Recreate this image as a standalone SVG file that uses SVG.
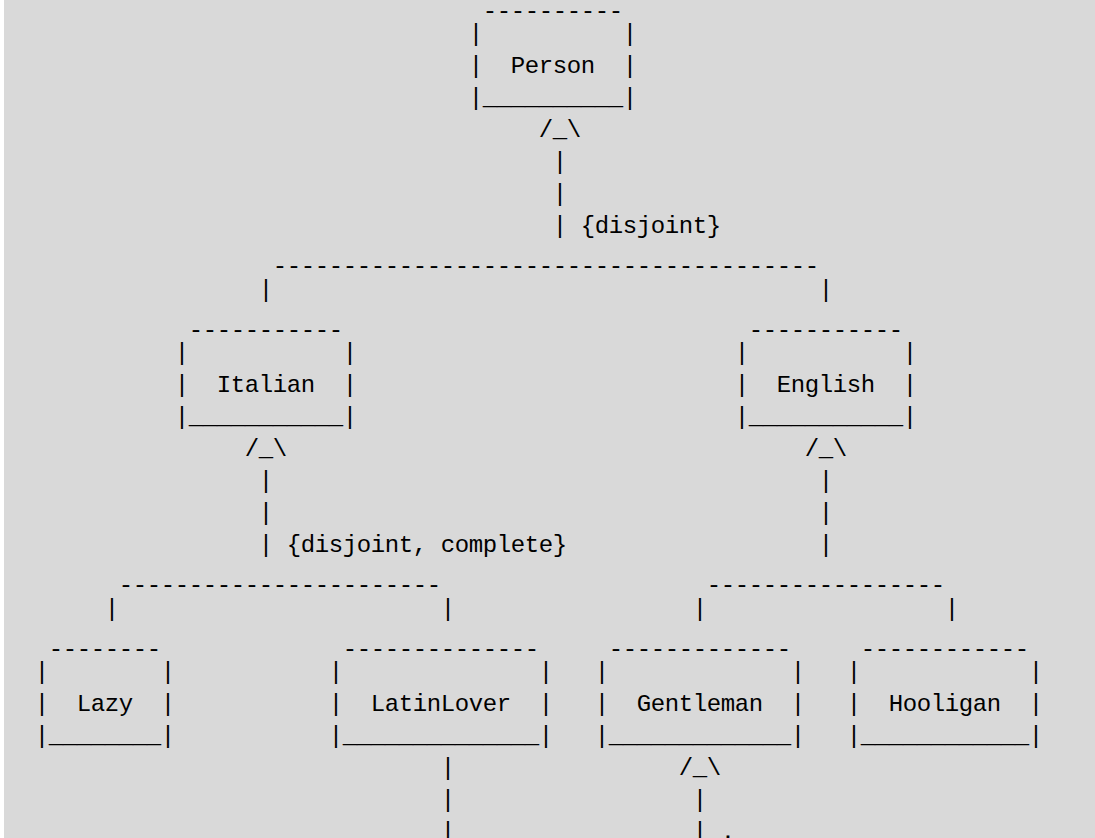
<svg xmlns="http://www.w3.org/2000/svg" width="1095" height="838" viewBox="0 0 1095 838" xml:space="preserve">
<style>
text { font-family: "Liberation Mono", "DejaVu Sans Mono", monospace; font-size: 24px; letter-spacing: -0.4px; fill: #000; white-space: pre; }
</style>
<rect x="0" y="0" width="1095" height="838" fill="#ffffff"/>
<rect x="4" y="0" width="1091" height="838" fill="#d9d9d9"/>

<g id="person">
<text x="482.7" y="17.7">----------</text>
<text x="468.7" y="41.4">|</text><text x="622.7" y="41.4">|</text>
<text x="468.7" y="73.3">|  Person  |</text>
<text x="468.7" y="105.2">|__________|</text>
</g>

<g id="italian">
<text x="188.7" y="336.7">-----------</text>
<text x="174.7" y="360.4">|</text><text x="342.7" y="360.4">|</text>
<text x="174.7" y="392.3">|  Italian  |</text>
<text x="174.7" y="424.2">|___________|</text>
</g>

<g id="english">
<text x="748.7" y="336.7">-----------</text>
<text x="734.7" y="360.4">|</text><text x="902.7" y="360.4">|</text>
<text x="734.7" y="392.3">|  English  |</text>
<text x="734.7" y="424.2">|___________|</text>
</g>

<g id="lazy">
<text x="48.7" y="655.7">--------</text>
<text x="34.7" y="679.4">|</text><text x="160.7" y="679.4">|</text>
<text x="34.7" y="711.3">|  Lazy  |</text>
<text x="34.7" y="743.2">|________|</text>
</g>

<g id="latinlover">
<text x="342.7" y="655.7">--------------</text>
<text x="328.7" y="679.4">|</text><text x="538.7" y="679.4">|</text>
<text x="328.7" y="711.3">|  LatinLover  |</text>
<text x="328.7" y="743.2">|______________|</text>
</g>

<g id="gentleman">
<text x="608.7" y="655.7">-------------</text>
<text x="594.7" y="679.4">|</text><text x="790.7" y="679.4">|</text>
<text x="594.7" y="711.3">|  Gentleman  |</text>
<text x="594.7" y="743.2">|_____________|</text>
</g>

<g id="hooligan">
<text x="860.7" y="655.7">------------</text>
<text x="846.7" y="679.4">|</text><text x="1028.7" y="679.4">|</text>
<text x="846.7" y="711.3">|  Hooligan  |</text>
<text x="846.7" y="743.2">|____________|</text>
</g>

<g id="connectors">
<!-- Person generalization -->
<text x="538.7" y="137.1">/_\</text>
<text x="552.7" y="169.0">|</text>
<text x="552.7" y="200.9">|</text>
<text x="552.7" y="232.8">| {disjoint}</text>
<text x="272.7" y="272.9">---------------------------------------</text>
<text x="258.7" y="296.6">|</text>
<text x="818.7" y="296.6">|</text>

<!-- Italian generalization -->
<text x="244.7" y="456.1">/_\</text>
<text x="258.7" y="488.0">|</text>
<text x="258.7" y="519.9">|</text>
<text x="258.7" y="551.8">| {disjoint, complete}</text>
<text x="118.7" y="591.9">-----------------------</text>
<text x="104.7" y="615.6">|</text>
<text x="440.7" y="615.6">|</text>

<!-- English generalization -->
<text x="804.7" y="456.1">/_\</text>
<text x="818.7" y="488.0">|</text>
<text x="818.7" y="519.9">|</text>
<text x="818.7" y="551.8">|</text>
<text x="706.7" y="591.9">-----------------</text>
<text x="692.7" y="615.6">|</text>
<text x="944.7" y="615.6">|</text>

<!-- LatinLover outgoing -->
<text x="440.7" y="775.1">|</text>
<text x="440.7" y="807.0">|</text>
<text x="440.7" y="838.9">|</text>

<!-- Gentleman generalization -->
<text x="678.7" y="775.1">/_\</text>
<text x="692.7" y="807.0">|</text>
<text x="692.7" y="838.9">| .</text>
</g>
</svg>
